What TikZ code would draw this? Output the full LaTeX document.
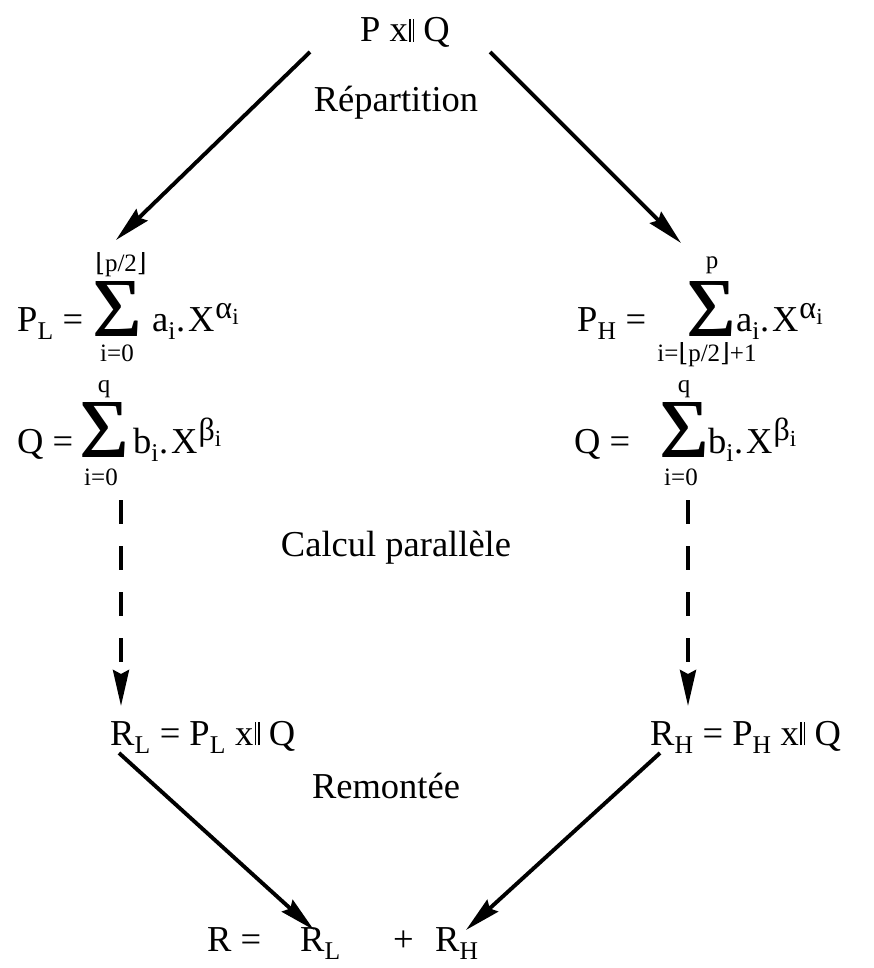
\documentclass[tikz,border=0pt]{standalone}
\usepackage{fontspec}
\setmainfont{Liberation Serif}
\newfontfamily\dvs{DejaVu Serif}
\usetikzlibrary{arrows.meta}
\newcommand\xpar{x\kern1.5pt\rule{1.4pt}{0.64em}\kern2.2pt\rule{1.4pt}{0.64em}}
\newcommand\fl{{\dvs\char"230A}}
\newcommand\fr{{\dvs\char"230B}}
\newcommand\supgr[1]{\raisebox{13pt}{\fontsize{32}{34}\selectfont #1\raisebox{-6pt}{\fontsize{23}{24}\selectfont i}}}
\newcommand\bsig{\rlap{Σ}\kern1pt Σ}
\tikzset{
  lbl/.style={inner sep=0pt, font=\fontsize{36.5}{40}\selectfont},
  lim/.style={inner sep=0pt, font=\fontsize{25}{28}\selectfont},
  sig/.style={inner sep=0pt, anchor=base, text height=0.66em, text depth=0pt, font=\fontsize{84}{86}\selectfont},
  arr/.style={line width=3.9pt, -{Stealth[length=36pt,width=16pt,inset=4pt]}},
  darr/.style={arr, dash pattern=on 24pt off 22pt}
}
\begin{document}
\begin{tikzpicture}[x=1pt,y=-1pt]
\useasboundingbox (0,0) rectangle (874,968);
\node[lbl, anchor=base] (top) at (405,42) {P \xpar\ Q};
\node[lbl, anchor=base] (rep) at (396,112) {Répartition};
% left P_L
\node[lbl, anchor=base west] (pl) at (17,331) {P\textsubscript{L} =};
\node[sig] (s1) at (117,336) {\bsig};
\node[lim, anchor=base] (s1u) at (121,271) {\fl p/2\fr};
\node[lim, anchor=base] (s1d) at (117,361) {i=0};
\node[lbl, anchor=base west] (pla) at (152,331) {a\textsubscript{i}.\kern3pt X\kern1pt\supgr{α}};
% left Q
\node[lbl, anchor=base west] (ql) at (17,453) {Q =};
\node[sig] (s2) at (104,457) {\bsig};
\node[lim, anchor=base] (s2u) at (104,392) {q};
\node[lim, anchor=base] (s2d) at (101,485) {i=0};
\node[lbl, anchor=base west] (qlb) at (133,453) {b\textsubscript{i}.\kern3pt X\kern1pt\supgr{β}};
% right P_H
\node[lbl, anchor=base west] (ph) at (577,331) {P\textsubscript{H} =};
\node[sig] (s3) at (711,336) {\bsig};
\node[lim, anchor=base] (s3u) at (712,268) {p};
\node[lim, anchor=base] (s3d) at (707,361) {i=\fl p/2\fr+1};
\node[lbl, anchor=base west] (pha) at (736,331) {a\textsubscript{i}.\kern3pt X\kern1pt\supgr{α}};
% right Q
\node[lbl, anchor=base west] (qh) at (574,453) {Q =};
\node[sig] (s4) at (684,457) {\bsig};
\node[lim, anchor=base] (s4u) at (684,392) {q};
\node[lim, anchor=base] (s4d) at (681,485) {i=0};
\node[lbl, anchor=base west] (qhb) at (708,453) {b\textsubscript{i}.\kern3pt X\kern1pt\supgr{β}};
\node[lbl, anchor=base] (calc) at (396,556) {Calcul parallèle};
\node[lbl, anchor=base west] (rl) at (110,745) {R\textsubscript{L} = P\textsubscript{L} \xpar\ Q};
\node[lbl, anchor=base west] (rh) at (650,745) {R\textsubscript{H} = P\textsubscript{H} \xpar\ Q};
\node[lbl, anchor=base] (rem) at (386,798) {Remontée};
\node[lbl, anchor=base west] (req) at (207,951) {R =};
\node[lbl, anchor=base west] (rrl) at (300,951) {R\textsubscript{L}};
\node[lbl, anchor=base west] (plus) at (393,951) {+};
\node[lbl, anchor=base west] (rrh) at (435,951) {R\textsubscript{H}};
\coordinate (a1s) at (310,52);
\coordinate (a1e) at (116,240);
\coordinate (a2s) at (490,52);
\coordinate (a2e) at (681,243);
\coordinate (d1s) at (121,500);
\coordinate (d1e) at (121,706);
\coordinate (d2s) at (688,500);
\coordinate (d2e) at (688,706);
\coordinate (b1s) at (119,753);
\coordinate (b1e) at (314,930);
\coordinate (b2s) at (660,753);
\coordinate (b2e) at (466,930);
\draw[arr] (a1s) -- (a1e);
\draw[arr] (a2s) -- (a2e);
\draw[darr] (d1s) -- (d1e);
\draw[darr] (d2s) -- (d2e);
\draw[arr] (b1s) -- (b1e);
\draw[arr] (b2s) -- (b2e);
\end{tikzpicture}
\end{document}
